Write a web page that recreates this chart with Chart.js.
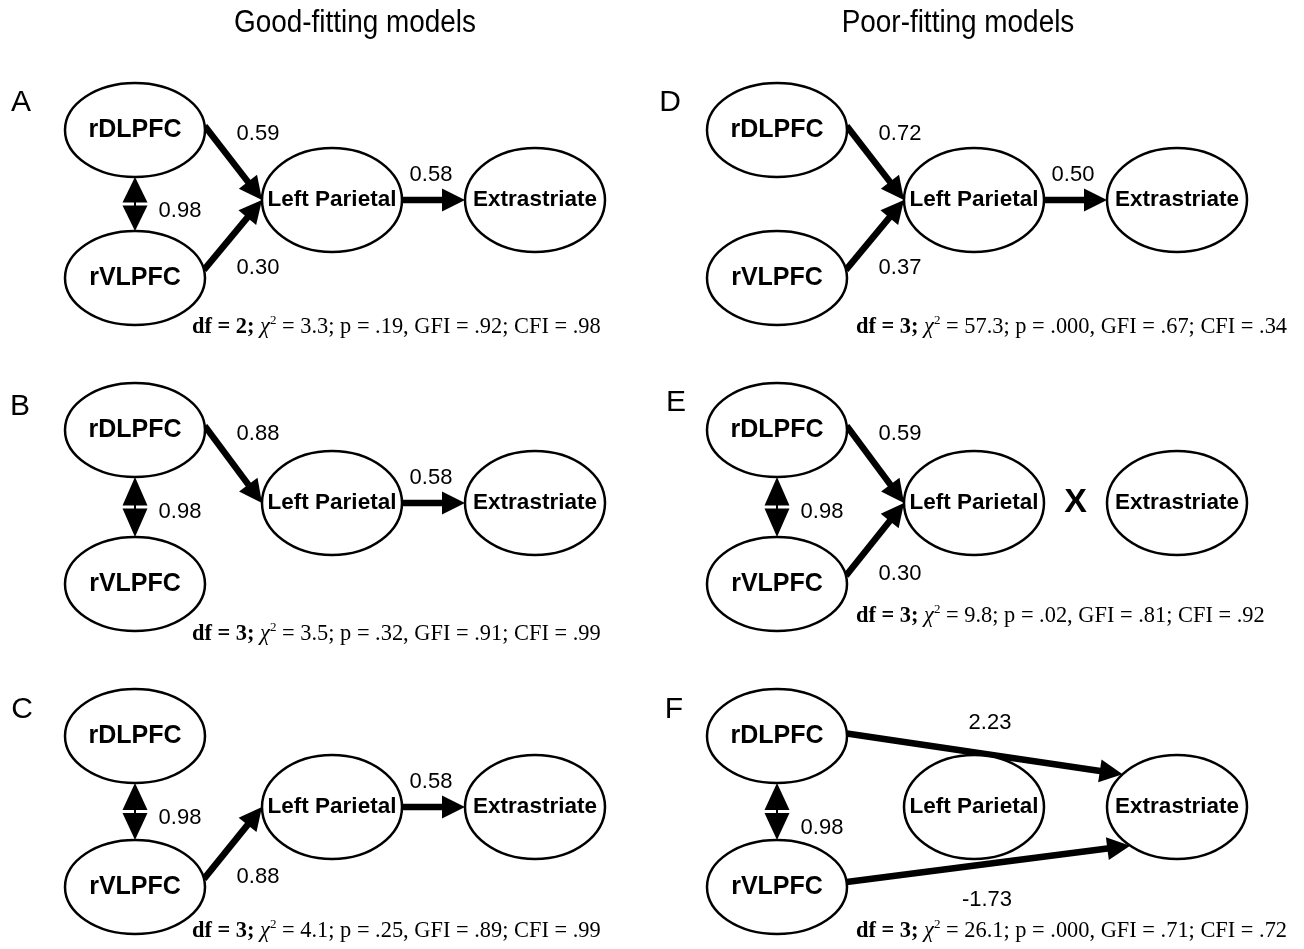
<!DOCTYPE html>
<html>
<head>
<meta charset="utf-8">
<script src="https://cdn.jsdelivr.net/npm/chart.js@4.4.1/dist/chart.umd.min.js"></script>
<style>
  html, body { margin: 0; padding: 0; background: #fff; }
  #wrap { width: 1304px; height: 949px; }
</style>
</head>
<body>
<div id="wrap"><canvas id="diagram" width="1304" height="949"></canvas></div>
<script>
// ---- data ----
const columnTitles = ["Good-fitting models", "Poor-fitting models"];
const panelLetters = ["A", "B", "C", "D", "E", "F"];
const nodeLabels = ["rDLPFC", "rVLPFC", "Left Parietal", "Extrastriate"];

// path coefficients: [from node, to node, value]
const pathsA = [[0, 2, 0.59], [1, 2, 0.30], [2, 3, 0.58]];
const pathsB = [[0, 2, 0.88], [2, 3, 0.58]];
const pathsC = [[1, 2, 0.88], [2, 3, 0.58]];
const pathsD = [[0, 2, 0.72], [1, 2, 0.37], [2, 3, 0.50]];
const pathsE = [[0, 2, 0.59], [1, 2, 0.30]];
const pathsF = [[0, 3, 2.23], [1, 3, -1.73]];
const panelPaths = [pathsA, pathsB, pathsC, pathsD, pathsE, pathsF];

// rDLPFC <-> rVLPFC correlation (null where not modelled)
const correlations = [0.98, 0.98, 0.98, null, 0.98, 0.98];
// panel E: path Left Parietal -> Extrastriate removed
const removedPath = [false, false, false, false, true, false];

// fit statistics
const fitDf = [2, 3, 3, 3, 3, 3];
const fitChi2 = ["3.3", "3.5", "4.1", "57.3", "9.8", "26.1"];
const fitP = [".19", ".32", ".25", ".000", ".02", ".000"];
const fitGFI = [".92", ".91", ".89", ".67", ".81", ".71"];
const fitCFI = [".98", ".99", ".99", ".34", ".92", ".72"];

// ---- layout (chart units = pixels of the 1304x949 figure) ----
const colX = [0, 642];
const rows = [
  { top: 130, bottom: 278, mid: 200 },
  { top: 430, bottom: 584, mid: 503 },
  { top: 736, bottom: 887, mid: 807 },
];
const nodeDx = [135, 135, 332, 535];
const nodeR = [[70, 47], [70, 47], [70, 52], [70, 52]];
// anchor angles on the ellipses (degrees) for each kind of path
const anchors = {
  "0-2": [-5, 180], "1-2": [-10, 180], "2-3": [0, 180],
  "0-3": [-3, -141], "1-3": [-6, 132],
};
// coefficient label offsets from the source node centre
const labelOffsets = {
  "0-2": [123, 4], "1-2": [123, -10], "2-3": [99, -25],
  "0-3": [213, -13], "1-3": [210, 13],
};
const corrDy = [7, 5, 6, 0, 5, 16];
const letterPos = [[21, 103], [20, 407], [22, 710], [670, 103], [676, 403], [674, 710]];
const fitPos = [[192, 326], [192, 633], [192, 930], [856, 326], [856, 615], [856, 930]];
const headLen = 23, headHalf = 11.5;

function panelNodes(p) {
  const x0 = colX[p < 3 ? 0 : 1];
  const r = rows[p % 3];
  const ys = [r.top, r.bottom, r.mid, r.mid];
  return nodeDx.map((dx, i) => ({ x: x0 + dx, y: ys[i], rx: nodeR[i][0], ry: nodeR[i][1] }));
}

function onEllipse(n, deg) {
  const a = (deg * Math.PI) / 180;
  return { x: n.x + n.rx * Math.cos(a), y: n.y + n.ry * Math.sin(a) };
}

// build the path geometry
const arrows = [];
panelPaths.forEach((paths, p) => {
  const nodes = panelNodes(p);
  paths.forEach(([from, to, value]) => {
    const key = from + "-" + to;
    const start = onEllipse(nodes[from], anchors[key][0]);
    const tip = onEllipse(nodes[to], anchors[key][1]);
    const len = Math.hypot(tip.x - start.x, tip.y - start.y);
    const ux = (tip.x - start.x) / len, uy = (tip.y - start.y) / len;
    const base = { x: tip.x - ux * (headLen - 2), y: tip.y - uy * (headLen - 2) };
    const off = labelOffsets[key];
    arrows.push({
      start, base, tip, value,
      label: { x: nodes[from].x + off[0], y: nodes[from].y + off[1] },
    });
  });
});

const datasets = arrows.map((a) => ({
  data: [a.start, a.base],
  showLine: true,
  borderColor: "#000",
  borderWidth: 6.5,
  borderCapStyle: "butt",
  pointRadius: 0,
  fill: false,
}));

// Draws ellipses, arrow heads and every text of the figure
const diagramPlugin = {
  id: "diagram",
  afterDatasetsDraw(chart) {
    const ctx = chart.ctx;
    const sx = chart.scales.x, sy = chart.scales.y;
    const px = (v) => sx.getPixelForValue(v);
    const py = (v) => sy.getPixelForValue(v);
    ctx.save();

    // column titles (slightly narrow, like the original)
    ctx.fillStyle = "#000";
    ctx.textAlign = "center";
    ctx.textBaseline = "middle";
    ctx.font = "31px 'Liberation Sans', Arial, sans-serif";
    [[355, 0], [958, 1]].forEach(([x, i]) => {
      ctx.save();
      ctx.translate(px(x), py(23));
      ctx.scale(0.9, 1);
      ctx.fillText(columnTitles[i], 0, 0);
      ctx.restore();
    });

    for (let p = 0; p < 6; p++) {
      const nodes = panelNodes(p);

      // two-headed correlation arrow
      if (correlations[p] !== null) {
        const a = nodes[0], b = nodes[1];
        const top = py(a.y + a.ry), bot = py(b.y - b.ry);
        const mid = (top + bot) / 2, cx = px(a.x);
        ctx.fillStyle = "#000";
        ctx.beginPath();
        ctx.moveTo(cx, top);
        ctx.lineTo(cx + 12.5, mid - 1.5);
        ctx.lineTo(cx - 12.5, mid - 1.5);
        ctx.closePath();
        ctx.fill();
        ctx.beginPath();
        ctx.moveTo(cx, bot);
        ctx.lineTo(cx + 12.5, mid + 1.5);
        ctx.lineTo(cx - 12.5, mid + 1.5);
        ctx.closePath();
        ctx.fill();
        ctx.fillRect(cx - 1, mid - 2, 2, 4);
        ctx.font = "22px 'Liberation Sans', Arial, sans-serif";
        ctx.textAlign = "center";
        ctx.fillText(correlations[p].toFixed(2), cx + 45, (top + bot) / 2 + corrDy[p]);
      }

      // ellipses
      nodes.forEach((n, i) => {
        ctx.beginPath();
        ctx.ellipse(px(n.x), py(n.y), px(n.x + n.rx) - px(n.x), py(n.y + n.ry) - py(n.y), 0, 0, Math.PI * 2);
        ctx.fillStyle = "#fff";
        ctx.fill();
        ctx.lineWidth = 2.5;
        ctx.strokeStyle = "#000";
        ctx.stroke();
        ctx.fillStyle = "#000";
        ctx.font = i < 2 ? "bold 25px 'Liberation Sans', Arial, sans-serif"
                         : "bold 22.5px 'Liberation Sans', Arial, sans-serif";
        ctx.fillText(nodeLabels[i], px(n.x), py(n.y));
      });

      if (removedPath[p]) {
        ctx.font = "bold 34px 'Liberation Sans', Arial, sans-serif";
        ctx.fillText("X", px((nodes[2].x + nodes[3].x) / 2), py(nodes[2].y));
      }

      // panel letter
      ctx.font = "30px 'Liberation Sans', Arial, sans-serif";
      ctx.fillText(panelLetters[p], px(letterPos[p][0]), py(letterPos[p][1]));

      // fit statistics line
      drawFit(ctx, p, px(fitPos[p][0]), py(fitPos[p][1]));
    }

    // arrow heads and coefficients
    arrows.forEach((a) => {
      const tx = px(a.tip.x), ty = py(a.tip.y);
      const dx = tx - px(a.start.x), dy = ty - py(a.start.y);
      const l = Math.hypot(dx, dy), ux = dx / l, uy = dy / l;
      const bx = tx - ux * headLen, by = ty - uy * headLen;
      ctx.fillStyle = "#000";
      ctx.beginPath();
      ctx.moveTo(tx, ty);
      ctx.lineTo(bx - uy * headHalf, by + ux * headHalf);
      ctx.lineTo(bx + uy * headHalf, by - ux * headHalf);
      ctx.closePath();
      ctx.fill();
      ctx.font = "22px 'Liberation Sans', Arial, sans-serif";
      ctx.textAlign = "center";
      ctx.fillText(a.value.toFixed(2), px(a.label.x), py(a.label.y));
    });

    ctx.restore();
  },
};

function drawFit(ctx, i, x, y) {
  const reg = "22.4px 'Liberation Serif', 'Times New Roman', serif";
  const parts = [
    { t: "df = " + fitDf[i] + ";", f: "bold " + reg, dy: 0 },
    { t: " ", f: reg, dy: 0 },
    { t: "\u03C7", f: "italic " + reg, dy: 0 },
    { t: "2", f: "13px 'Liberation Serif', serif", dy: -9 },
    { t: " = " + fitChi2[i] + "; p = " + fitP[i] + ", GFI = " + fitGFI[i] + "; CFI = " + fitCFI[i], f: reg, dy: 0 },
  ];
  ctx.textAlign = "left";
  ctx.textBaseline = "alphabetic";
  let cx = x;
  parts.forEach((part) => {
    ctx.font = part.f;
    ctx.fillText(part.t, cx, y + 7 + part.dy);
    cx += ctx.measureText(part.t).width;
  });
  ctx.textAlign = "center";
  ctx.textBaseline = "middle";
}

new Chart(document.getElementById("diagram"), {
  type: "scatter",
  data: { datasets },
  options: {
    responsive: false,
    animation: false,
    layout: { padding: 0 },
    scales: {
      x: { type: "linear", min: 0, max: 1304, display: false },
      y: { type: "linear", min: 0, max: 949, reverse: true, display: false },
    },
    plugins: { legend: { display: false }, tooltip: { enabled: false } },
  },
  plugins: [diagramPlugin],
});
</script>
</body>
</html>
